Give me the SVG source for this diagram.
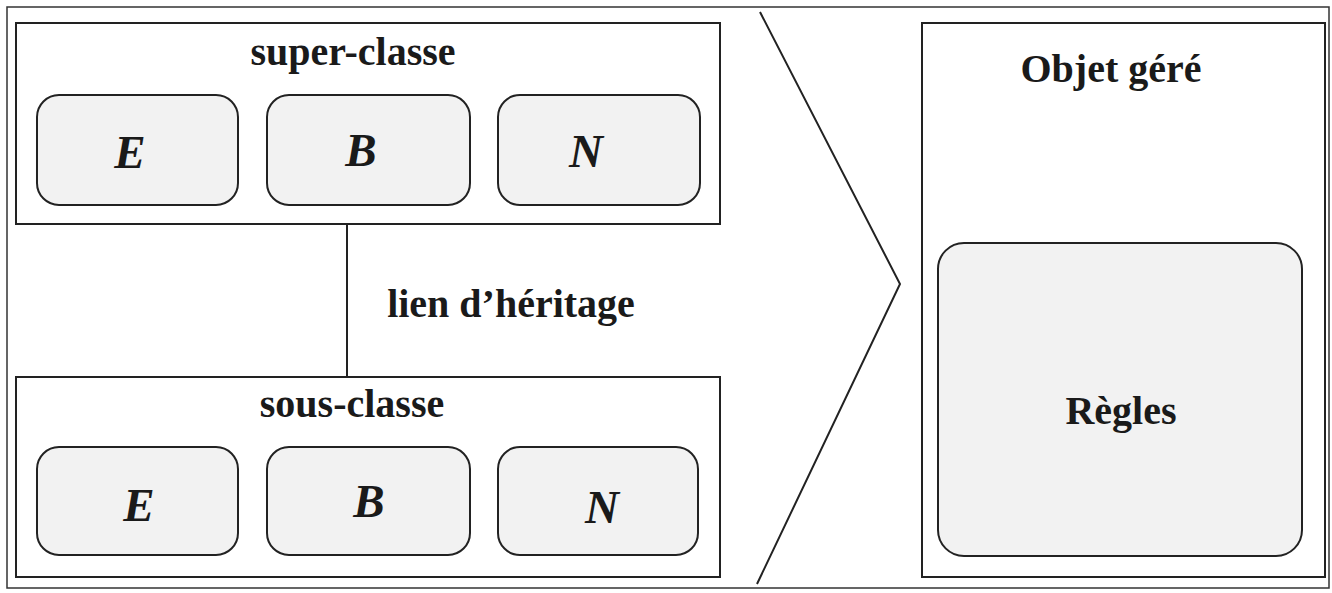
<svg xmlns="http://www.w3.org/2000/svg" width="1332" height="593" viewBox="0 0 1332 593">
<style>
.frame{fill:#ffffff;stroke:#333;stroke-width:1.5}
.box{fill:#ffffff;stroke:#222;stroke-width:2}
.rbox{fill:#f2f2f2;stroke:#222;stroke-width:2}
.title{font-family:"Liberation Serif",serif;font-weight:bold;font-size:40px;fill:#1a1a1a;text-anchor:middle}
.letter{font-family:"Liberation Serif",serif;font-weight:bold;font-style:italic;font-size:47px;fill:#1a1a1a;text-anchor:middle}
.line{fill:none;stroke:#222;stroke-width:2}
</style>
<rect x="0" y="0" width="1332" height="593" fill="#ffffff"/>
<rect class="frame" x="7" y="7" width="1322" height="581"/>
<g id="super-classe">
<rect class="box" x="16" y="23" width="704" height="201"/>
<text class="title" x="353" y="65">super-classe</text>
<g id="super-E"><rect class="rbox" x="37" y="95" width="201" height="110" rx="22"/><text class="letter" x="130" y="168">E</text></g>
<g id="super-B"><rect class="rbox" x="267" y="95" width="203" height="110" rx="22"/><text class="letter" x="361" y="166">B</text></g>
<g id="super-N"><rect class="rbox" x="498" y="95" width="202" height="110" rx="22"/><text class="letter" x="586" y="167">N</text></g>
</g>
<g id="sous-classe">
<rect class="box" x="16" y="377" width="704" height="200"/>
<text class="title" x="352" y="417">sous-classe</text>
<g id="sous-E"><rect class="rbox" x="37" y="447" width="201" height="108" rx="22"/><text class="letter" x="139" y="521">E</text></g>
<g id="sous-B"><rect class="rbox" x="267" y="447" width="203" height="108" rx="22"/><text class="letter" x="369" y="517">B</text></g>
<g id="sous-N"><rect class="rbox" x="498" y="447" width="200" height="108" rx="22"/><text class="letter" x="602" y="523">N</text></g>
</g>
<g id="objet-gere">
<rect class="box" x="922" y="23" width="403" height="554"/>
<text class="title" x="1111" y="82">Objet géré</text>
<g id="regles"><rect class="rbox" x="938" y="243" width="364" height="313" rx="26"/><text class="title" x="1121" y="424">Règles</text></g>
</g>
<g id="connectors">
<line class="line" x1="347" y1="224" x2="347" y2="377"/>
<text class="title" x="511" y="317">lien d’héritage</text>
<polyline class="line" points="760,12 900,284 757,584"/>
</g>
</svg>
